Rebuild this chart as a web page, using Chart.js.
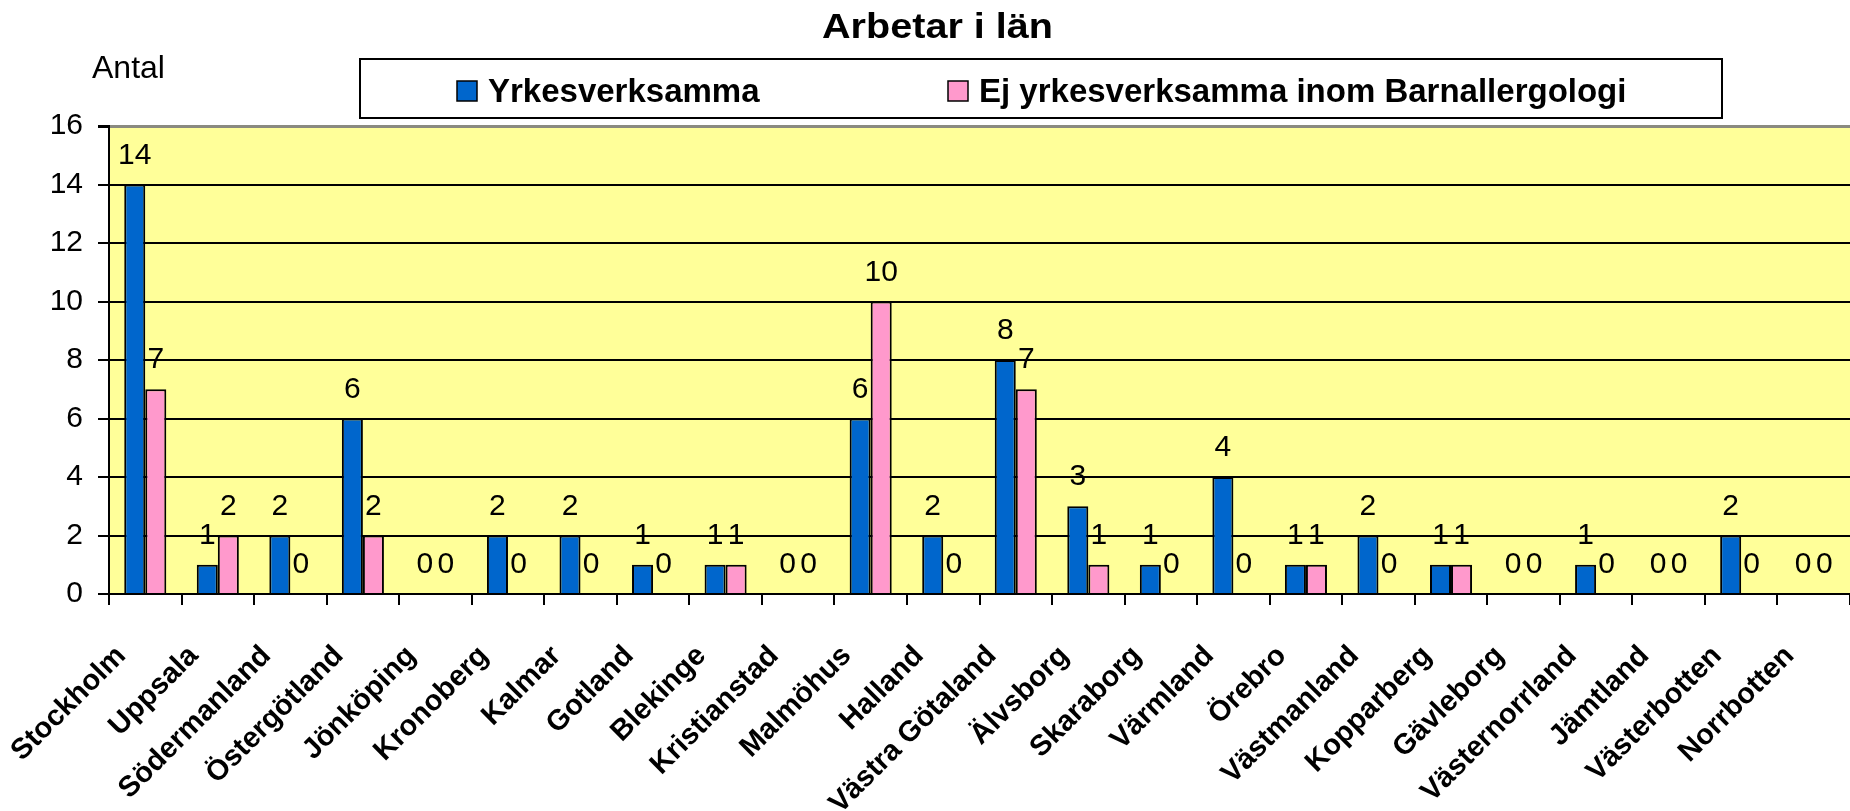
<!DOCTYPE html>
<html>
<head>
<meta charset="utf-8">
<script src="https://cdn.jsdelivr.net/npm/chart.js@4.4.1/dist/chart.umd.min.js"></script>
<style>
  html, body { margin: 0; padding: 0; background: #fff; }
  #wrap { width: 1850px; height: 811px; position: relative; }
</style>
</head>
<body>
<div id="wrap"><canvas id="lanChart"></canvas></div>
<script>
// data
const categories = [
  'Stockholm', 'Uppsala', 'Södermanland', 'Östergötland', 'Jönköping', 'Kronoberg',
  'Kalmar', 'Gotland', 'Blekinge', 'Kristianstad', 'Malmöhus', 'Halland',
  'Västra Götaland', 'Älvsborg', 'Skaraborg', 'Värmland', 'Örebro', 'Västmanland',
  'Kopparberg', 'Gävleborg', 'Västernorrland', 'Jämtland', 'Västerbotten', 'Norrbotten'
];
const yrkesverksamma = [14, 1, 2, 6, 0, 2, 2, 1, 1, 0, 6, 2, 8, 3, 1, 4, 1, 2, 1, 0, 1, 0, 2, 0];
const ejYrkesverksamma = [7, 2, 0, 2, 0, 0, 0, 0, 1, 0, 10, 0, 7, 1, 0, 0, 1, 0, 1, 0, 0, 0, 0, 0];
const yTickValues = [0, 2, 4, 6, 8, 10, 12, 14, 16];
const chartTitle = 'Arbetar i län';
const yAxisLabel = 'Antal';

const FONT = "'Liberation Sans', Arial, sans-serif";

const plotBackground = {
  id: 'plotBackground',
  beforeDraw(chart) {
    const { ctx, chartArea: a } = chart;
    ctx.save();
    ctx.fillStyle = '#ffffff';
    ctx.fillRect(0, 0, chart.width, chart.height);
    ctx.fillStyle = '#FFFF99';
    ctx.fillRect(a.left, a.top, a.right - a.left, a.bottom - a.top);
    ctx.restore();
  }
};

// value labels above every bar (zeros too)
const barLabels = {
  id: 'barLabels',
  afterDatasetsDraw(chart) {
    const ctx = chart.ctx;
    ctx.save();
    ctx.font = '30px ' + FONT;
    ctx.fillStyle = '#000';
    ctx.textAlign = 'center';
    ctx.textBaseline = 'alphabetic';
    chart.data.datasets.forEach((ds, i) => {
      chart.getDatasetMeta(i).data.forEach((bar, j) => {
        ctx.fillText(String(ds.data[j]), bar.x, bar.y - 21);
      });
    });
    ctx.restore();
  }
};

// title, "Antal" and the boxed legend
const headerTexts = {
  id: 'headerTexts',
  afterDraw(chart) {
    const ctx = chart.ctx;
    ctx.save();
    ctx.fillStyle = '#000';
    ctx.textBaseline = 'alphabetic';
    ctx.textAlign = 'left';

    ctx.font = 'bold 35px ' + FONT;
    const tw = ctx.measureText(chartTitle).width;
    ctx.save();
    ctx.translate(822, 38);
    ctx.scale(231 / tw, 1);
    ctx.fillText(chartTitle, 0, 0);
    ctx.restore();

    ctx.font = '32px ' + FONT;
    ctx.fillText(yAxisLabel, 92, 78);

    // legend box
    ctx.fillStyle = '#fff';
    ctx.fillRect(360, 59, 1362, 59);
    ctx.lineWidth = 2;
    ctx.strokeStyle = '#000';
    ctx.strokeRect(360, 59, 1362, 59);

    const itemX = [457, 948];
    ctx.font = 'bold 33px ' + FONT;
    chart.data.datasets.forEach((ds, i) => {
      ctx.fillStyle = ds.backgroundColor;
      ctx.fillRect(itemX[i], 81, 20, 20);
      ctx.lineWidth = 1.5;
      ctx.strokeRect(itemX[i], 81, 20, 20);
      ctx.fillStyle = '#000';
      ctx.fillText(ds.label, itemX[i] + 31, 102);
    });
    ctx.restore();
  }
};

new Chart(document.getElementById('lanChart'), {
  type: 'bar',
  data: {
    labels: categories,
    datasets: [
      {
        label: 'Yrkesverksamma',
        data: yrkesverksamma,
        backgroundColor: '#0066CC',
        borderColor: '#000',
        borderWidth: 2
      },
      {
        label: 'Ej yrkesverksamma inom Barnallergologi',
        data: ejYrkesverksamma,
        backgroundColor: '#FF99CC',
        borderColor: '#000',
        borderWidth: 2
      }
    ]
  },
  options: {
    responsive: true,
    maintainAspectRatio: false,
    animation: false,
    layout: { padding: { top: 126, right: 0, bottom: 0, left: 0 } },
    datasets: { bar: { categoryPercentage: 0.58, barPercentage: 1 } },
    scales: {
      x: {
        grid: { offset: true, drawOnChartArea: false, drawTicks: true, tickLength: 11, color: '#000', lineWidth: 2 },
        border: { display: true, color: '#000', width: 2 },
        ticks: {
          autoSkip: false, minRotation: 45, maxRotation: 45,
          labelOffset: -24, padding: 34,
          color: '#000', font: { family: FONT, size: 29, weight: 'bold' }
        },
        afterFit(scale) {
          scale.height = 217;
          scale.paddingLeft = 0;
          scale.paddingRight = 0;
        }
      },
      y: {
        min: 0, max: 16,
        afterBuildTicks(scale) { scale.ticks = yTickValues.map(v => ({ value: v })); },
        grid: {
          color: c => (c.tick && c.tick.value === 16) ? '#8a8a80' : '#000',
          lineWidth: c => (c.tick && c.tick.value === 16) ? 3 : 2,
          tickColor: '#000', tickLength: 11, drawTicks: true
        },
        border: { display: true, color: '#000', width: 2 },
        ticks: { padding: 15, color: '#000', font: { family: FONT, size: 30 } },
        afterFit(scale) { scale.width = 109; }
      }
    },
    plugins: {
      legend: { display: false },
      title: { display: false },
      tooltip: { enabled: false }
    }
  },
  plugins: [plotBackground, barLabels, headerTexts]
});
</script>
</body>
</html>
